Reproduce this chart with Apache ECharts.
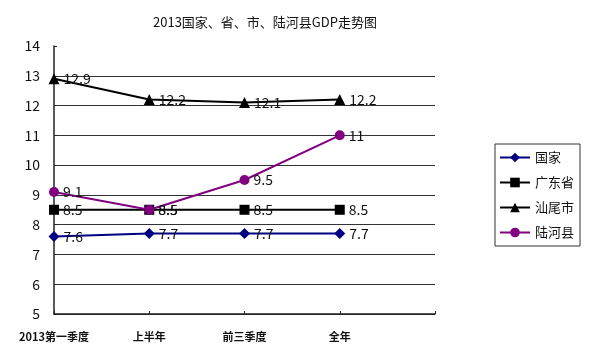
<!DOCTYPE html>
<html>
<head>
<meta charset="utf-8">
<script src="https://cdn.jsdelivr.net/npm/echarts@6/dist/echarts.min.js"></script>
<style>html,body{margin:0;padding:0;background:#fff}#c{width:590px;height:357px}</style>
</head>
<body>
<div id="c"></div>
<script>
const categories = ['2013第一季度', '上半年', '前三季度', '全年', ''];
const guojia = [7.6, 7.7, 7.7, 7.7];
const guangdong = [8.5, 8.5, 8.5, 8.5];
const shanwei = [12.9, 12.2, 12.1, 12.2];
const luhe = [9.1, 8.5, 9.5, 11];
const seriesNames = ['国家', '广东省', '汕尾市', '陆河县'];

const font = '"Noto Sans CJK SC", "Noto Sans", sans-serif';
const chart = echarts.init(document.getElementById('c'));
function mk(name, data, color, symbol, size) {
  return {
    name, type: 'line', data, symbol, symbolSize: size,
    lineStyle: { color, width: 2 },
    itemStyle: { color },
    label: { show: true, position: 'right', distance: 4, color: '#111', fontSize: 14, fontFamily: font },
    animation: false
  };
}
chart.setOption({
  animation: false,
  title: {
    text: '2013国家、省、市、陆河县GDP走势图',
    left: 260, top: 11, textAlign: 'center',
    textStyle: { fontSize: 13, fontWeight: 'normal', color: '#111', fontFamily: font }
  },
  legend: {
    orient: 'vertical', left: 495, top: 144, width: 86,
    padding: [7, 6, 7, 4], itemGap: 12, itemWidth: 30, itemHeight: 12,
    borderColor: '#333', borderWidth: 1,
    textStyle: { fontSize: 13, color: '#111', fontFamily: font, lineHeight: 13 },
    data: seriesNames
  },
  grid: { left: 54, right: 155, top: 46, bottom: 43 },
  xAxis: {
    type: 'category', data: categories, boundaryGap: false,
    axisLine: { lineStyle: { color: '#222', width: 1.5 } },
    axisTick: { inside: true, length: 3, lineStyle: { color: '#222' } },
    axisLabel: { color: '#111', fontSize: 11, fontFamily: font, margin: 17, fontWeight: 'bold' }
  },
  yAxis: {
    type: 'value', min: 5, max: 14, interval: 1,
    axisLine: { show: true, lineStyle: { color: '#222', width: 1.5 } },
    axisTick: { show: true, inside: true, length: 3, lineStyle: { color: '#222' } },
    axisLabel: { color: '#111', fontSize: 14, fontFamily: font, margin: 14 },
    splitLine: { show: true, showMaxLine: false, lineStyle: { color: '#333', width: 1 } }
  },
  series: [
    mk('国家', guojia, '#000080', 'diamond', 11),
    mk('广东省', guangdong, '#000000', 'rect', 10),
    mk('汕尾市', shanwei, '#000000', 'triangle', 11),
    mk('陆河县', luhe, '#800080', 'circle', 10)
  ]
});
</script>
</body>
</html>
